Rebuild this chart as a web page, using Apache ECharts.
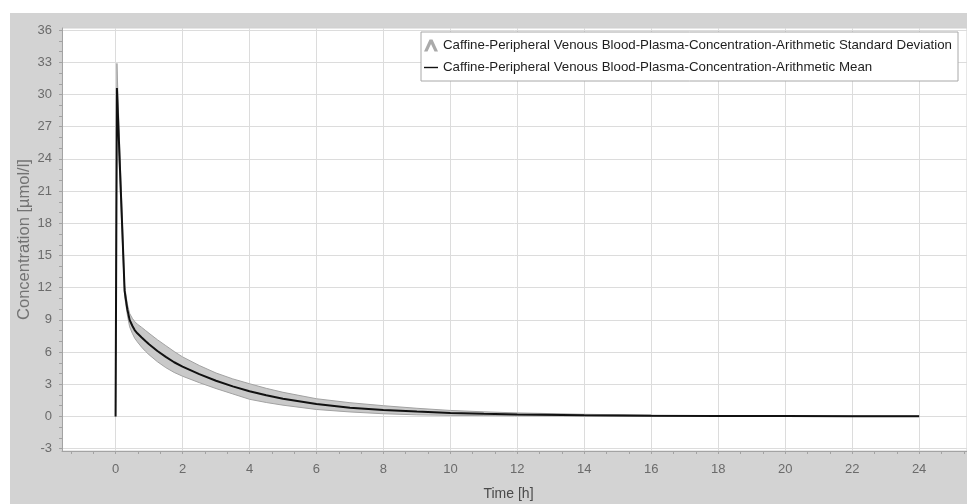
<!DOCTYPE html>
<html>
<head>
<meta charset="utf-8">
<title>Caffine plasma concentration</title>
<script src="https://cdn.jsdelivr.net/npm/echarts@6/dist/echarts.min.js"></script>
<style>
  html, body { margin: 0; padding: 0; background: #fff; }
  #chart { width: 967px; height: 504px; }
</style>
</head>
<body>
<div id="chart"></div>
<script>
// time points [h]
var timeH = [0, 0.04, 0.1, 0.15, 0.2, 0.27, 0.35, 0.42, 0.5, 0.57, 0.65, 0.78, 0.9, 1, 1.25, 1.5, 1.75, 2, 2.5, 3, 3.5, 4, 4.5, 5, 6, 7, 8, 9, 10, 11, 12, 14, 16, 18, 20, 22, 24];
// arithmetic mean [µmol/l]
var meanConc = [0, 30.6, 25.7, 21.6, 17.5, 11.7, 10.0, 9.0, 8.45, 8.05, 7.75, 7.35, 7.0, 6.72, 6.1, 5.55, 5.05, 4.65, 3.95, 3.33, 2.8, 2.35, 1.97, 1.65, 1.15, 0.82, 0.6, 0.45, 0.33, 0.25, 0.19, 0.11, 0.07, 0.05, 0.04, 0.03, 0.03];
// mean + / - standard deviation
var sdUpper = [0, 32.9, 27.2, 22.8, 18.5, 12.2, 10.5, 9.6, 9.15, 8.85, 8.6, 8.3, 8.0, 7.75, 7.15, 6.6, 6.05, 5.55, 4.75, 4.05, 3.5, 3.05, 2.62, 2.25, 1.65, 1.28, 1.0, 0.76, 0.56, 0.43, 0.33, 0.2, 0.12, 0.08, 0.06, 0.05, 0.04];
var sdLower = [0, 28.3, 24.2, 20.4, 16.5, 11.2, 9.5, 8.35, 7.75, 7.3, 6.95, 6.45, 6.05, 5.75, 5.1, 4.55, 4.1, 3.75, 3.15, 2.6, 2.1, 1.6, 1.3, 1.05, 0.65, 0.42, 0.25, 0.15, 0.1, 0.08, 0.06, 0.04, 0.03, 0.02, 0.02, 0.01, 0.01];

var xTicks = [0, 2, 4, 6, 8, 10, 12, 14, 16, 18, 20, 22, 24];
var yTicks = [-3, 0, 3, 6, 9, 12, 15, 18, 21, 24, 27, 30, 33, 36];

var sdName = 'Caffine-Peripheral Venous Blood-Plasma-Concentration-Arithmetic Standard Deviation';
var meanName = 'Caffine-Peripheral Venous Blood-Plasma-Concentration-Arithmetic Mean';

var xMin = -1.6, xMax = 25.43, yMin = -3.22, yMax = 36.2;

// minor ticks: 3 per major step on x, every unit on y
var xMinor = [];
for (var m = -2; m <= 24; m += 2) {
  [m + 2 / 3, m + 4 / 3].forEach(function (v) { if (v > xMin && v < xMax) xMinor.push(v); });
}
var yMinor = [];
for (var k = -3; k <= 36; k++) { if (k % 3 !== 0) yMinor.push(k); }

var bandData = timeH.map(function (t, i) { return [t, sdLower[i], sdUpper[i]]; });
var meanData = timeH.map(function (t, i) { return [t, meanConc[i]]; });

// whole SD band as one polygon, built through the axis scales
function renderBand(params, api) {
  if (params.dataIndexInside !== 0) return null;
  var top = [], bottom = [];
  for (var i = 0; i < bandData.length; i++) {
    top.push(api.coord([bandData[i][0], bandData[i][2]]));
    bottom.push(api.coord([bandData[i][0], bandData[i][1]]));
  }
  return {
    type: 'polygon',
    shape: { points: top.concat(bottom.reverse()) },
    style: { fill: '#c9c9c9', stroke: '#a2a2a2', lineWidth: 1 }
  };
}

var axisGray = '#a3a3a3';
var labelGray = '#6b6b6b';
var font = "'Liberation Sans', Arial, sans-serif";

var chart = echarts.init(document.getElementById('chart'));
var option = {
  animation: false,
  backgroundColor: '#d3d3d3',
  graphic: [
    { type: 'rect', left: 0, top: 0, shape: { width: 967, height: 13 }, style: { fill: '#fff' } },
    { type: 'rect', left: 0, top: 0, shape: { width: 10, height: 504 }, style: { fill: '#fff' } }
  ],
  grid: [
    { left: 62, top: 28, right: 0, bottom: 53, outerBoundsMode: 'none', show: true, backgroundColor: '#fff', borderColor: '#cfcfcf', borderWidth: 1 },
    { left: 62, top: 28, right: 0, bottom: 53, outerBoundsMode: 'none', show: false }
  ],
  legend: {
    right: 9,
    top: 32,
    orient: 'vertical',
    align: 'left',
    backgroundColor: '#fff',
    borderColor: '#a8a8a8',
    borderWidth: 1,
    borderRadius: 0,
    padding: [5, 6, 5, 3],
    itemGap: 5,
    itemWidth: 14,
    itemHeight: 12,
    symbolKeepAspect: true,
    textStyle: { fontFamily: font, fontSize: 13.3, color: '#1e1e1e', lineHeight: 17 },
    data: [
      { name: sdName, icon: 'path://M0,12L5.5,0L8.5,0L14,12L10.5,12L7,4.5L3.5,12Z', itemStyle: { color: '#aaaaaa' } },
      { name: meanName, icon: 'path://M0,0H14V1.4H0Z', itemStyle: { color: '#111' } }
    ]
  },
  xAxis: [
    {
      type: 'value', gridIndex: 0, min: xMin, max: xMax,
      name: 'Time [h]', nameLocation: 'middle', nameGap: 36,
      nameTextStyle: { fontFamily: font, fontSize: 14, color: '#4a4a4a', padding: [0, 12, 0, 0] },
      axisLine: { onZero: false, lineStyle: { color: axisGray } },
      axisTick: { show: true, customValues: xTicks, length: 3, lineStyle: { color: axisGray } },
      axisLabel: { customValues: xTicks, color: labelGray, fontFamily: font, fontSize: 13, margin: 12 },
      splitLine: { show: true, lineStyle: { color: '#dcdcdc' } }
    },
    {
      type: 'value', gridIndex: 1, min: xMin, max: xMax,
      axisLine: { show: false, onZero: false },
      axisTick: { show: true, customValues: xMinor, length: 3, lineStyle: { color: axisGray } },
      axisLabel: { show: false },
      splitLine: { show: false }
    }
  ],
  yAxis: [
    {
      type: 'value', gridIndex: 0, min: yMin, max: yMax,
      name: 'Concentration [µmol/l]', nameLocation: 'middle', nameGap: 29, nameMoveOverlap: false,
      nameTextStyle: { fontFamily: font, fontSize: 16.5, color: '#737373' },
      axisLine: { show: true, onZero: false, lineStyle: { color: axisGray } },
      axisTick: { show: true, customValues: yTicks, length: 3, lineStyle: { color: axisGray } },
      axisLabel: { customValues: yTicks, color: labelGray, fontFamily: font, fontSize: 13, margin: 10 },
      splitLine: { show: true, lineStyle: { color: '#dcdcdc' } }
    },
    {
      type: 'value', gridIndex: 1, min: yMin, max: yMax,
      axisLine: { show: false, onZero: false },
      axisTick: { show: true, customValues: yMinor, length: 3, lineStyle: { color: axisGray } },
      axisLabel: { show: false },
      splitLine: { show: false }
    }
  ],
  series: [
    {
      name: sdName, type: 'custom', xAxisIndex: 0, yAxisIndex: 0,
      data: bandData, renderItem: renderBand, silent: true,
      itemStyle: { color: '#aaaaaa' },
      encode: { x: 0, y: [1, 2] }, z: 2
    },
    {
      name: meanName, type: 'line', xAxisIndex: 0, yAxisIndex: 0,
      data: meanData, symbol: 'none', z: 5,
      itemStyle: { color: '#111' },
      lineStyle: { color: '#111', width: 2 }
    }
  ]
};
chart.setOption(option);
window.onresize = chart.resize;
</script>
</body>
</html>
